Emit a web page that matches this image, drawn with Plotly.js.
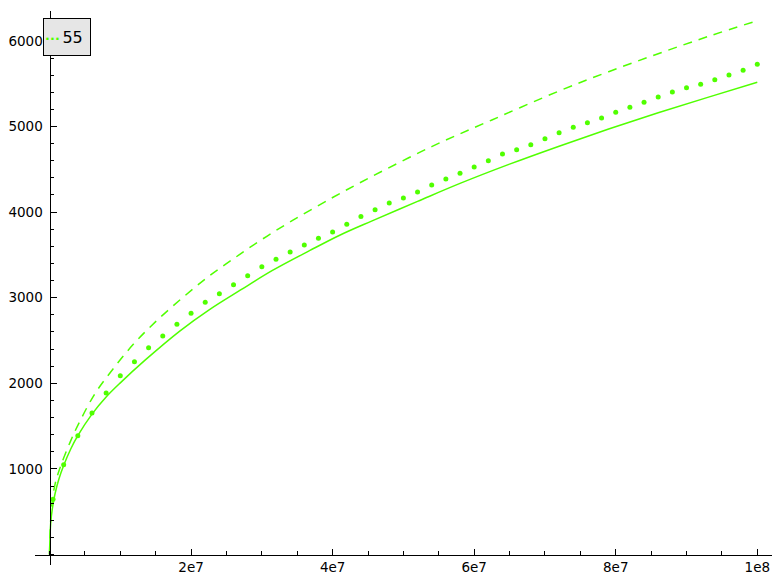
<!DOCTYPE html>
<html>
<head>
<meta charset="utf-8">
<script src="https://cdn.plot.ly/plotly-3.0.1.min.js"></script>
<style>
  html, body { margin: 0; padding: 0; background: #fff; }
  #chart { width: 781px; height: 584px; }
</style>
</head>
<body>
<div id="chart"></div>
<script>
// values (x in units, y in counts)
const solidX = [0, 0.17e6, 0.4e6, 0.78e6, 1.34e6, 2e6, 3e6, 4e6, 6e6, 8e6, 10e6, 13.5e6, 18.4e6, 22.5e6, 27e6,
  31.5e6, 36.8e6, 41e6, 45.5e6, 52e6, 58e6, 65e6, 72e6, 79e6, 86e6, 93e6, 100e6];
const solidY = [0, 370, 535, 710, 885, 1040, 1233, 1388, 1640, 1840, 2005, 2270, 2610, 2855, 3090,
  3318, 3552, 3730, 3895, 4125, 4335, 4560, 4770, 4970, 5160, 5340, 5516];

const dashedX = [0, 0.3e6, 0.78e6, 1.48e6, 2.9e6, 4.07e6, 6.43e6, 9e6, 11.84e6, 15e6, 18.8e6, 22.5e6, 26e6,
  30e6, 34.4e6, 40e6, 45.3e6, 54e6, 62.5e6, 72.1e6, 79e6, 86e6, 93e6, 100e6];
const dashedY = [0, 560, 820, 1010, 1310, 1520, 1880, 2170, 2455, 2720, 3000, 3250, 3455,
  3680, 3905, 4170, 4405, 4765, 5076, 5418, 5640, 5850, 6050, 6236];

const dotsX = [0.5e6, 2e6, 4e6, 6e6, 8e6, 10e6, 12e6, 14e6, 16e6, 18e6, 20e6,
  22e6, 24e6, 26e6, 28e6, 30e6, 32e6, 34e6, 36e6, 38e6, 40e6,
  42e6, 44e6, 46e6, 48e6, 50e6, 52e6, 54e6, 56e6, 58e6, 60e6,
  62e6, 64e6, 66e6, 68e6, 70e6, 72e6, 74e6, 76e6, 78e6, 80e6,
  82e6, 84e6, 86e6, 88e6, 90e6, 92e6, 94e6, 96e6, 98e6, 100e6];
const dotsY = [645, 1049, 1388, 1653, 1887, 2089, 2252, 2416, 2553, 2689, 2818,
  2946, 3047, 3152, 3257, 3362, 3449, 3534, 3616, 3694, 3768,
  3858, 3949, 4028, 4106, 4165, 4235, 4317, 4387, 4453, 4527,
  4601, 4679, 4729, 4787, 4857, 4928, 4991, 5044, 5099, 5166,
  5224, 5283, 5345, 5403, 5453, 5493, 5547, 5602, 5656, 5727];

const xTicks = [2e7, 4e7, 6e7, 8e7, 1e8];
const xTickText = ['2e7', '4e7', '6e7', '8e7', '1e8'];
const yTicks = [1000, 2000, 3000, 4000, 5000, 6000];
const legendLabel = '55';

const green = '#50ff00';
const font = { family: 'DejaVu Sans', size: 13.5, color: '#000' };

const traces = [
    {
        x: solidX, y: solidY,
        mode: 'lines', type: 'scatter',
        line: { color: green, width: 1.5, shape: 'spline', smoothing: 1 },
        showlegend: false, hoverinfo: 'skip',
    },
    {
        x: dashedX, y: dashedY,
        mode: 'lines', type: 'scatter',
        line: { color: green, width: 1.5, shape: 'spline', smoothing: 1, dash: '9px,7px' },
        showlegend: false, hoverinfo: 'skip',
    },
    {
        x: dotsX, y: dotsY,
        mode: 'markers', type: 'scatter',
        marker: { color: green, size: 5 },
        name: legendLabel,
        showlegend: false,
    },
];

const layout = {
    width: 781,
    height: 584,
    margin: { l: 35, r: 9, t: 11, b: 19 },
    paper_bgcolor: '#fff',
    plot_bgcolor: '#fff',
    font: font,
    showlegend: false,
    xaxis: {
        range: [-2.05e6, 102.08e6],
        anchor: 'free',
        position: 10.5 / 554,
        showgrid: false,
        zeroline: false,
        showline: true,
        linecolor: '#000',
        linewidth: 1.2,
        ticks: 'inside',
        ticklen: 6,
        tickwidth: 1,
        tickcolor: '#000',
        tickmode: 'array',
        tickvals: xTicks,
        ticktext: xTickText,
        tickfont: font,
        minor: { ticks: 'inside', ticklen: 3.5, tickcolor: '#000', tick0: 0, dtick: 5e6, showgrid: false },
    },
    yaxis: {
        range: [-122.7, 6349],
        anchor: 'free',
        position: 14.5 / 737,
        showgrid: false,
        zeroline: false,
        showline: true,
        linecolor: '#000',
        linewidth: 1.2,
        ticks: 'inside',
        ticklen: 6,
        tickwidth: 1,
        tickcolor: '#000',
        tickmode: 'array',
        tickvals: yTicks,
        ticktext: yTicks.map(String),
        tickfont: font,
        ticklabelstandoff: 4,
        minor: { ticks: 'inside', ticklen: 3.5, tickcolor: '#000', tick0: 0, dtick: 200, showgrid: false },
    },
    annotations: [{
        xref: 'paper', yref: 'paper',
        x: 8 / 737, y: 547 / 554,
        xanchor: 'left', yanchor: 'top',
        text: `<span style="color:${green};font-size:13px;font-weight:bold">···</span><span style="font-size:8px"> </span><span style="font-size:16px">${legendLabel}</span>`,
        showarrow: false,
        width: 44, height: 34,
        align: 'left',
        bgcolor: '#e6e6e6',
        bordercolor: '#000',
        borderwidth: 1,
        borderpad: 1,
        font: { family: 'DejaVu Sans', size: 16, color: '#000' },
    }],
};

Plotly.newPlot('chart', traces, layout, { displayModeBar: false, staticPlot: true });
</script>
</body>
</html>
